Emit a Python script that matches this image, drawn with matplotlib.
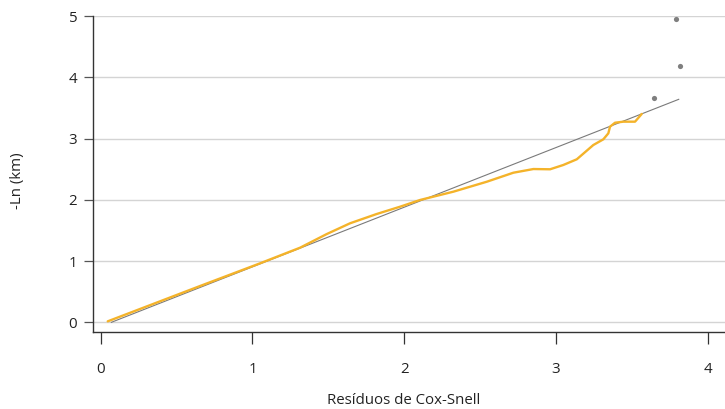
import matplotlib
matplotlib.use("Agg")
import matplotlib.pyplot as plt

plt.rcParams['font.family'] = ['Open Sans', 'DejaVu Sans']

# Reference (diagonal) line endpoints
ref_x = [0.07, 3.81]
ref_y = [0.00, 3.64]

# Cumulative hazard curve (orange)
curve_x = [0.046, 0.655, 1.050, 1.314, 1.490, 1.643, 1.819, 1.973, 2.105, 2.324,
           2.545, 2.720, 2.852, 2.962, 3.049, 3.138, 3.247, 3.313, 3.346, 3.357,
           3.390, 3.445, 3.522, 3.566]
curve_y = [0.016, 0.593, 0.963, 1.218, 1.441, 1.616, 1.768, 1.887, 1.997, 2.132,
           2.295, 2.442, 2.502, 2.498, 2.568, 2.661, 2.894, 2.987, 3.085, 3.193,
           3.258, 3.275, 3.275, 3.401]

# Outlying points
pts_x = [3.647, 3.790, 3.821]
pts_y = [3.667, 4.950, 4.180]

xticks = [0, 1, 2, 3, 4]
yticks = [0, 1, 2, 3, 4, 5]

fig = plt.figure(figsize=(7.25, 4.09), dpi=100)
ax = fig.add_axes([93.3/725, (409-332)/409, 1-93.3/725, (332-16)/409])

for yt in yticks:
    ax.axhline(yt, color='#d4d4d4', lw=1.0, zorder=1)

ax.plot(ref_x, ref_y, color='#7a7a7a', lw=0.8, zorder=2)
ax.plot(curve_x, curve_y, color='#f4b32a', lw=1.7, zorder=3,
        solid_joinstyle='round', solid_capstyle='round')
ax.scatter(pts_x, pts_y, s=14, color='#7f7f7f', zorder=4, clip_on=False, linewidths=0)

ax.set_xlim(-0.049, 4.115)
ax.set_ylim(-0.158, 5.0)
ax.set_xticks(xticks)
ax.set_yticks(yticks)
ax.set_xticklabels([str(v) for v in xticks])
ax.set_yticklabels([str(v) for v in yticks])

for s in ['top', 'right']:
    ax.spines[s].set_visible(False)
for s in ['left', 'bottom']:
    ax.spines[s].set_color('#333333')
    ax.spines[s].set_linewidth(1.0)

ax.tick_params(axis='x', direction='out', length=8.5, width=0.9, color='#333333',
               pad=13, labelsize=10.8, labelcolor='#222222')
ax.tick_params(axis='y', direction='out', length=6.5, width=0.9, color='#555555',
               pad=5, labelsize=10.8, labelcolor='#222222')

fig.text(403.5/725, 1-401/409, 'Resíduos de Cox-Snell', ha='center', va='center',
         fontsize=10.8, color='#222222')
fig.text(18/725, 1-181/409, '-Ln (km)', ha='center', va='center', rotation=90,
         fontsize=10.8, color='#222222')

fig.savefig('out.png', dpi=100)
